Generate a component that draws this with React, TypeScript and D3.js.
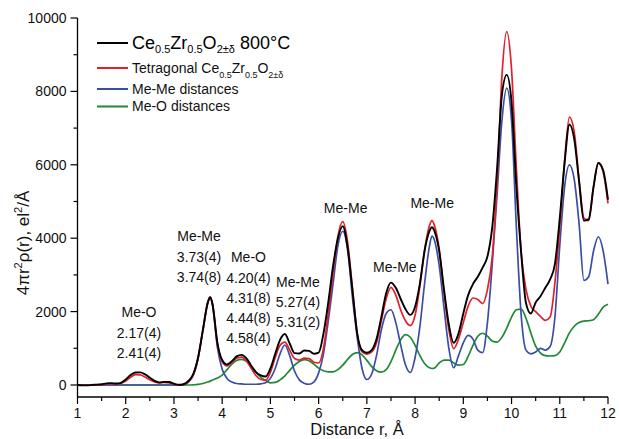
import React from 'react';
import * as d3 from 'd3';

// Distance grid r (Å)
const R = [1.0,1.1,1.2,1.3,1.4,1.5,1.6,1.7,1.8,1.9,2.0,2.1,2.2,2.3,2.4,2.5,2.6,2.7,2.8,2.9,3.0,3.1,3.2,3.3,3.4,3.5,3.6,3.7,3.75,3.8,3.9,4.0,4.1,4.2,4.3,4.4,4.5,4.6,4.7,4.8,4.9,5.0,5.1,5.2,5.3,5.4,5.5,5.6,5.7,5.8,5.9,6.0,6.1,6.2,6.3,6.4,6.5,6.6,6.7,6.8,6.9,7.0,7.1,7.2,7.3,7.4,7.5,7.6,7.7,7.8,7.9,8.0,8.1,8.2,8.3,8.35,8.4,8.5,8.6,8.7,8.8,8.9,9.0,9.1,9.2,9.3,9.4,9.5,9.6,9.7,9.8,9.9,10.0,10.1,10.2,10.3,10.4,10.5,10.6,10.7,10.8,10.9,11.0,11.1,11.2,11.3,11.4,11.5,11.6,11.7,11.8,11.9,12.0];

// Experimental Ce0.5Zr0.5O2±δ 800°C (black)
const EXPERIMENT = [
  0, -10, -10, 0, 10, 20, 45, 50, 40, 60,
  150, 270, 340, 345, 290, 200, 110, 70, 85, 80,
  35, 5, 20, 110, 300, 750, 1500, 2240,
  2390,
  2200, 1150,
  680, 560, 650, 780, 820, 730, 530, 350, 260, 230,
  450, 850, 1230, 1390, 1130, 870, 860, 940, 930, 850,
  880, 1400, 2250, 3250, 4000, 4330, 3750, 2600, 1400, 950,
  880, 950, 1250, 1850, 2500, 2790, 2650, 2350, 2070, 1910,
  2130, 2770, 3680, 4200,
  4300,
  4200, 3650, 2600, 1650, 1150, 1400,
  1950, 2450, 2750, 2950, 3200, 3500, 4300, 5900, 7900, 8450,
  7700, 5400, 3600, 2230, 1950, 2250, 2420, 2650, 2880, 3300,
  4550, 6050, 7100, 6700, 5550, 4480, 4520, 5400, 6050, 5850,
  5050,
];

// Tetragonal model (red)
const TETRAGONAL = [
  0, 0, 0, 0, 0, 10, 30, 35, 25, 40,
  110, 210, 280, 275, 215, 140, 80, 55, 70, 60,
  25, 0, 15, 100, 280, 730, 1500, 2250,
  2400,
  2200, 1150,
  630, 520, 610, 730, 760, 660, 460, 260, 150, 130,
  350, 750, 1080, 1170, 950, 720, 680, 730, 720, 620,
  600, 1000, 1950, 3050, 4050, 4450, 3900, 2650, 1400, 900,
  840, 900, 1150, 1750, 2350, 2660, 2450, 2050, 1750, 1620,
  1900, 2700, 3700, 4350,
  4480,
  4350, 3700, 2500, 1500, 990, 1250,
  1700, 2150, 2370, 2330, 2220, 2600, 3500, 5500, 8400, 9630,
  8600, 5900, 3600, 2600, 2150, 2000, 1870, 1760, 1850, 2800,
  4300, 6100, 7300, 6900, 5600, 4550, 4480, 5400, 6050, 5800,
  4950,
];

// Me-Me distances (blue)
const ME_ME = [
  0, 0, 0, 0, 0, 0, 0, 0, 0, 0,
  0, 0, 0, 0, 0, 0, 0, 0, 0, 0,
  0, 0, 10, 80, 260, 720, 1480, 2230,
  2380,
  2180, 1030,
  430, 180, 80, 40, 30, 20, 20, 20, 30, 60,
  180, 450, 850, 1090, 800, 380, 140, 50, 20, 80,
  330, 850, 1750, 2770, 3800, 4190, 3700, 2400, 1300, 450,
  150, 300, 800, 1500, 1950, 2050, 1700, 1100, 550, 340,
  750, 1600, 2800, 3800,
  4060,
  3950, 3250, 2100, 1000, 470, 800,
  1150, 1350, 1250, 950, 880, 1700, 3300, 5200, 7200, 8090,
  7200, 4300, 1900, 950, 850, 900, 1000, 950, 1050, 1860,
  3800, 5400, 6000, 5600, 4400, 2850, 2950, 3650, 4040, 3650,
  2750,
];

// Me-O distances (green)
const ME_O = [
  0, 0, 0, 0, 0, 0, 0, 0, 0, 0,
  0, 0, 0, 0, 0, 0, 0, 0, 0, 0,
  0, 0, 0, 0, 5, 15, 40, 80,
  105,
  135, 190,
  270, 420, 570, 670, 700, 650, 510, 350, 210, 120,
  60, 70, 140, 250, 400, 540, 640, 690, 660, 570,
  460, 390, 360, 360, 420, 540, 700, 830, 880, 820,
  670, 500, 390, 350, 420, 640, 950, 1230, 1370, 1300,
  1080, 800, 580, 470,
  450,
  460, 600, 680, 680, 600, 540,
  560, 780, 1080, 1330, 1410, 1330, 1200, 1170, 1300, 1550,
  1850, 2050, 2070, 1820, 1420, 1060, 870, 800, 790, 800,
  900, 1150, 1420, 1600, 1700, 1740, 1750, 1780, 1930, 2120,
  2200,
];

const X_TICKS = [1, 2, 3, 4, 5, 6, 7, 8, 9, 10, 11, 12];
const X_MINOR = [1.5, 2.5, 3.5, 4.5, 5.5, 6.5, 7.5, 8.5, 9.5, 10.5, 11.5];
const Y_TICKS = [0, 2000, 4000, 6000, 8000, 10000];
const Y_MINOR = [1000, 3000, 5000, 7000, 9000];

// Peak annotations: lines of text, anchored at (r, value) of first line centre
const ANNOTATIONS: { r: number; v: number; lines: string[] }[] = [
  { r: 2.275, v: 1980, lines: ['Me-O', '2.17(4)', '2.41(4)'] },
  { r: 3.52, v: 4050, lines: ['Me-Me', '3.73(4)', '3.74(8)'] },
  { r: 4.545, v: 3480, lines: ['Me-O', '4.20(4)', '4.31(8)', '4.44(8)', '4.58(4)'] },
  { r: 5.57, v: 2815, lines: ['Me-Me', '5.27(4)', '5.31(2)'] },
  { r: 6.56, v: 4815, lines: ['Me-Me'] },
  { r: 7.58, v: 3220, lines: ['Me-Me'] },
  { r: 8.355, v: 4965, lines: ['Me-Me'] },
];

const FONT = "'Liberation Sans', Arial, Helvetica, sans-serif";
const C_BLACK = '#000000';
const C_RED = '#e3202a';
const C_BLUE = '#3b4ea6';
const C_GREEN = '#1f8a34';

export default function App() {
  const W = 619;
  const H = 439;
  const x = d3.scaleLinear().domain([1, 12]).range([77.5, 608]);
  const y = d3.scaleLinear().domain([-327, 10000]).range([397, 18]);
  const x0 = x(1);
  const yAxisBottom = y(-327);

  const line = d3
    .line<number>()
    .x((_, i) => x(R[i]))
    .y((d) => y(d))
    .curve(d3.curveMonotoneX);

  const series = [
    { data: ME_O, color: C_GREEN, w: 1.7 },
    { data: ME_ME, color: C_BLUE, w: 1.7 },
    { data: TETRAGONAL, color: C_RED, w: 1.7 },
    { data: EXPERIMENT, color: C_BLACK, w: 1.9 },
  ];

  const lineH = 20.3;

  return (
    <svg
      width={W}
      height={H}
      style={{ position: 'absolute', left: 0, top: 0, background: '#fff' }}
      fontFamily={FONT}
    >
      <rect x={0} y={0} width={W} height={H} fill="#fff" />
      {/* curves */}
      {series.map((s, i) => (
        <path key={i} d={line(s.data) || ''} fill="none" stroke={s.color} strokeWidth={s.w} strokeLinejoin="round" />
      ))}

      {/* axes */}
      <line x1={x0} x2={x0} y1={y(10000)} y2={yAxisBottom} stroke="#000" strokeWidth={1.3} />
      <line x1={x0} x2={x(12)} y1={yAxisBottom} y2={yAxisBottom} stroke="#000" strokeWidth={1.3} />
      {Y_TICKS.map((t) => (
        <g key={'yt' + t}>
          <line x1={x0 - 7} x2={x0} y1={y(t)} y2={y(t)} stroke="#000" strokeWidth={1.2} />
          <text x={x0 - 11} y={y(t) + 5} textAnchor="end" fontSize={14} fill="#111">
            {t}
          </text>
        </g>
      ))}
      {Y_MINOR.map((t) => (
        <line key={'ym' + t} x1={x0 - 4} x2={x0} y1={y(t)} y2={y(t)} stroke="#000" strokeWidth={1.2} />
      ))}
      {X_TICKS.map((t) => (
        <g key={'xt' + t}>
          <line x1={x(t)} x2={x(t)} y1={yAxisBottom} y2={yAxisBottom + 7} stroke="#000" strokeWidth={1.2} />
          <text x={x(t)} y={yAxisBottom + 21} textAnchor="middle" fontSize={14} fill="#111">
            {t}
          </text>
        </g>
      ))}
      {X_MINOR.map((t) => (
        <line key={'xm' + t} x1={x(t)} x2={x(t)} y1={yAxisBottom} y2={yAxisBottom + 4} stroke="#000" strokeWidth={1.2} />
      ))}

      {/* axis titles */}
      <text x={357} y={435} textAnchor="middle" fontSize={16.5} fill="#111">
        Distance r, Å
      </text>
      <text transform="translate(29,243) rotate(-90)" textAnchor="middle" fontSize={17} fill="#111">
        4πr<tspan fontSize={11} dy={-7}>2</tspan>
        <tspan dy={7}>ρ(r), el</tspan>
        <tspan fontSize={11} dy={-7}>2</tspan>
        <tspan dy={7}>/Å</tspan>
      </text>

      {/* annotations */}
      {ANNOTATIONS.map((a, i) => (
        <g key={'an' + i}>
          {a.lines.map((l, j) => (
            <text key={j} x={x(a.r)} y={y(a.v) + 5 + j * lineH} textAnchor="middle" fontSize={14} fill="#111">
              {l}
            </text>
          ))}
        </g>
      ))}

      {/* legend */}
      <line x1={97} x2={128} y1={43} y2={43} stroke={C_BLACK} strokeWidth={2} />
      <text x={132} y={48.5} fontSize={18} fill="#000">
        Ce<tspan fontSize={11} dy={4.5}>0.5</tspan>
        <tspan dy={-4.5}>Zr</tspan>
        <tspan fontSize={11} dy={4.5}>0.5</tspan>
        <tspan dy={-4.5}>O</tspan>
        <tspan fontSize={11} dy={4.5}>2±δ</tspan>
        <tspan dy={-4.5}>{'\u00a0800°C'}</tspan>
      </text>
      <line x1={97} x2={128} y1={68} y2={68} stroke={C_RED} strokeWidth={2} />
      <text x={132} y={73.3} fontSize={14} fill="#111">
        {'Tetragonal Ce'}
        <tspan fontSize={9} dy={4.5}>0.5</tspan>
        <tspan dy={-4.5}>Zr</tspan>
        <tspan fontSize={9} dy={4.5}>0.5</tspan>
        <tspan dy={-4.5}>O</tspan>
        <tspan fontSize={9} dy={4.5}>2±δ</tspan>
      </text>
      <line x1={97} x2={128} y1={89} y2={89} stroke={C_BLUE} strokeWidth={2} />
      <text x={132} y={94} fontSize={14} fill="#111">
        Me-Me distances
      </text>
      <line x1={97} x2={128} y1={106.5} y2={106.5} stroke={C_GREEN} strokeWidth={2} />
      <text x={132} y={111} fontSize={14} fill="#111">
        Me-O distances
      </text>
    </svg>
  );
}
